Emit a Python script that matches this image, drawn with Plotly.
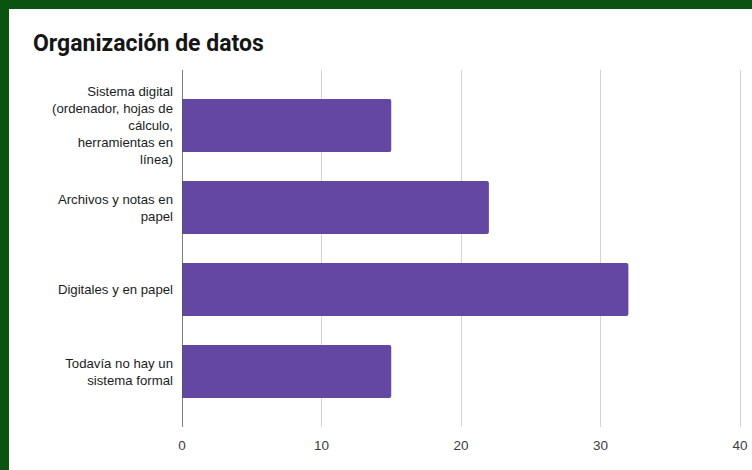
import plotly.graph_objects as go

# Survey answers: how data is organised
categories = [
    "Sistema digital<br>(ordenador, hojas de<br>cálculo,<br>herramientas en<br>línea)",
    "Archivos y notas en<br>papel",
    "Digitales y en papel",
    "Todavía no hay un<br>sistema formal",
]
counts = [15, 22, 32, 15]
x_ticks = [0, 10, 20, 30, 40]

BAR_COLOR = "#6347a3"
FRAME_GREEN = "#0b5310"

fig = go.Figure(
    go.Bar(
        x=counts,
        y=categories,
        orientation="h",
        marker=dict(color=BAR_COLOR, cornerradius=2, line=dict(width=0)),
        width=0.645,
        hoverinfo="x+y",
    )
)

fig.update_layout(
    width=752,
    height=470,
    margin=dict(l=182, r=10, t=70, b=43, autoexpand=False),
    paper_bgcolor=FRAME_GREEN,
    plot_bgcolor="white",
    showlegend=False,
    title=dict(
        text="<b>Organización de datos</b>",
        font=dict(family="Roboto", size=23, color="#161616"),
        x=33 / 752,
        xanchor="left",
        y=1 - 43 / 470,
        yanchor="middle",
    ),
    shapes=[
        # white card inside the green frame
        dict(
            type="rect",
            xref="paper",
            yref="paper",
            x0=(9 - 182) / 560,
            x1=1.1,
            y0=-0.2,
            y1=(427 - 9) / 357,
            fillcolor="white",
            line=dict(width=0),
            layer="below",
        )
    ],
)

fig.update_xaxes(
    # a little headroom past 40 keeps the last gridline visible
    range=[0, 40 * 560 / 558],
    tickvals=x_ticks,
    ticktext=[str(v) for v in x_ticks],
    showgrid=True,
    gridcolor="#d3d3d3",
    gridwidth=1,
    zeroline=False,
    showline=False,
    ticks="",
    ticklabelstandoff=8,
    automargin=False,
    tickfont=dict(family="Arial", size=13.5, color="#3c3c3c"),
    fixedrange=True,
)

fig.update_yaxes(
    categoryorder="array",
    categoryarray=categories,
    range=[3.677, -0.677],
    showgrid=False,
    zeroline=False,
    showline=False,
    ticks="",
    ticklabelstandoff=8,
    automargin=False,
    tickfont=dict(family="Arial", size=13.2, color="#1c1c1c"),
    fixedrange=True,
)

# dark baseline at x = 0
fig.add_vline(x=0, line=dict(color="#555555", width=1.5), layer="above")

fig.write_html("out.html")
